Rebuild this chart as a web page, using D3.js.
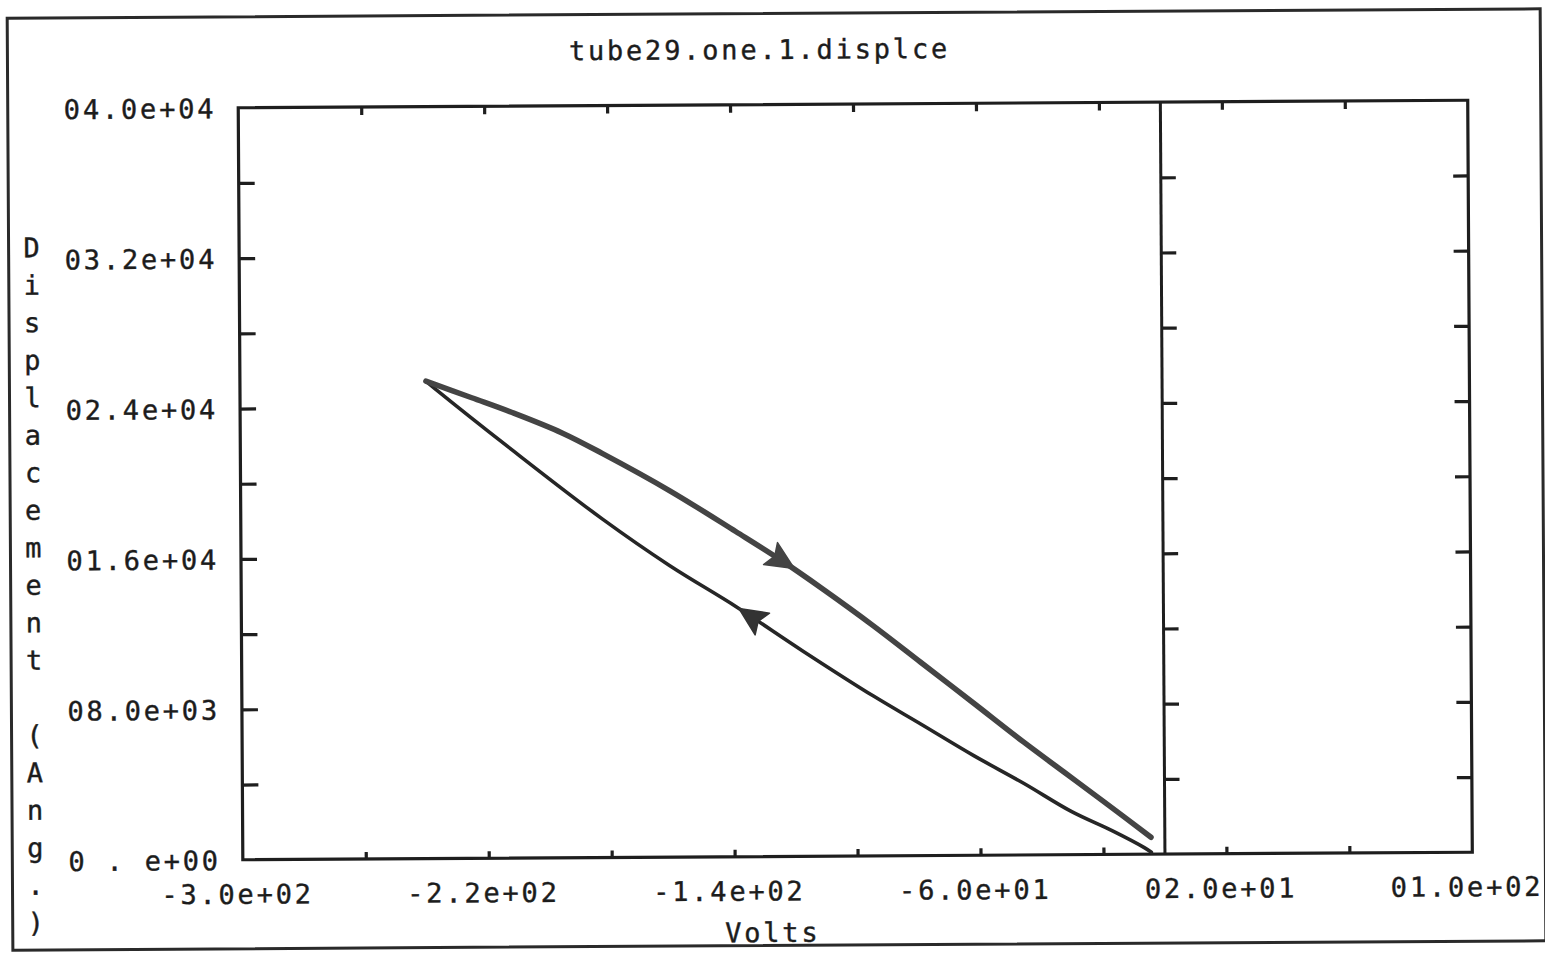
<!DOCTYPE html>
<html>
<head>
<meta charset="utf-8">
<script src="https://cdn.jsdelivr.net/npm/d3@7"></script>
<style>
html, body { margin: 0; padding: 0; background: #fff; }
svg { display: block; }
text { font-family: "DejaVu Sans Mono", monospace; font-size: 27px; fill: #1c1c1c; stroke: #1c1c1c; stroke-width: 0.4px; white-space: pre; letter-spacing: 2.8px; }
</style>
</head>
<body>
<svg id="chart" width="1545" height="953"></svg>
<script>
// labels
var title = "tube29.one.1.displce";
var xTitle = "Volts";
var yTitle = "Displacement (Ang.)";

// axes
var xDomain = [-300, 100];
var yDomain = [0, 40000];
var xLabelValues = [-300, -220, -140, -60, 20, 100];
var xTickLabels = ["-3.0e+02", "-2.2e+02", "-1.4e+02", "-6.0e+01", "02.0e+01", "01.0e+02"];
var xMinorTicks = [-260, -220, -180, -140, -100, -60, -20, 20, 60];
var yLabelValues = [0, 8000, 16000, 24000, 32000, 40000];
var yTickLabels = ["0 . e+00", "08.0e+03", "01.6e+04", "02.4e+04", "03.2e+04", "04.0e+04"];
var yMinorTicks = [4000, 8000, 12000, 16000, 20000, 24000, 28000, 32000, 36000];

// sweep up (tip -> 0 V), travel order
var upVolts = [-239.5, -224.6, -211.5, -195.3, -182.3, -160.5, -139.0, -124.7, -110.7, -94.5, -79.2, -62.0, -45.7, -32.7, -19.7, -4.5];
var upDisp  = [25400, 24500, 23700, 22600, 21500, 19500, 17300, 15800, 14200, 12250, 10300, 8100, 6000, 4400, 2800, 900];

// sweep back (0 V -> tip), travel order
var downVolts = [-4.4, -6.7, -17.0, -30.4, -45.7, -62.0, -79.2, -94.5, -117.2, -139.0, -160.5, -182.3, -211.5, -236.6, -239.5];
var downDisp  = [100, 350, 1250, 2300, 3800, 5300, 7000, 8500, 10900, 13300, 15500, 18000, 21700, 25000, 25400];

// where the direction arrows sit
var arrowVolts = [-124.7, -133.5];

var svg = d3.select("#chart");
var W = 1545, H = 953;
// the scan is slightly skewed
var root = svg.append("g").attr("transform", "rotate(-0.35," + (W / 2) + "," + 476 + ")");

var pLeft = 240.5, pRight = 1470, pTop = 104.5, pBottom = 856.5;
var x = d3.scaleLinear().domain(xDomain).range([pLeft, pRight]);
var y = d3.scaleLinear().domain(yDomain).range([pBottom, pTop]);

// outer frame
root.append("rect")
  .attr("x", 10).attr("y", 13.5).attr("width", 1533).attr("height", 932)
  .attr("fill", "none").attr("stroke", "#2a2a2a").attr("stroke-width", 3);

// plot box
root.append("rect")
  .attr("x", pLeft).attr("y", pTop).attr("width", pRight - pLeft).attr("height", pBottom - pTop)
  .attr("fill", "none").attr("stroke", "#1e1e1e").attr("stroke-width", 3.2);

// zero volt line
root.append("line")
  .attr("x1", x(0)).attr("x2", x(0)).attr("y1", pTop).attr("y2", pBottom)
  .attr("stroke", "#1e1e1e").attr("stroke-width", 3);

function styleTicks(g) {
  g.select(".domain").remove();
  g.selectAll(".tick line").attr("stroke", "#1e1e1e").attr("stroke-width", 3.2);
}

// minor ticks
root.append("g").attr("transform", "translate(0," + pBottom + ")")
  .call(d3.axisBottom(x).tickValues(xMinorTicks).tickSize(-7).tickFormat(""))
  .call(styleTicks);
root.append("g").attr("transform", "translate(0," + pTop + ")")
  .call(d3.axisTop(x).tickValues(xMinorTicks).tickSize(-8).tickFormat(""))
  .call(styleTicks);
root.append("g").attr("transform", "translate(" + pLeft + ",0)")
  .call(d3.axisLeft(y).tickValues(yMinorTicks).tickSize(-16).tickFormat(""))
  .call(styleTicks);
root.append("g").attr("transform", "translate(" + pRight + ",0)")
  .call(d3.axisRight(y).tickValues(yMinorTicks).tickSize(-15).tickFormat(""))
  .call(styleTicks);
root.append("g").attr("transform", "translate(" + x(0) + ",0)")
  .call(d3.axisRight(y).tickValues(yMinorTicks).tickSize(15).tickFormat(""))
  .call(styleTicks);

// tick labels
var xl = root.append("g").attr("transform", "translate(0," + pBottom + ")")
  .call(d3.axisBottom(x).tickValues(xLabelValues).tickSize(0)
    .tickFormat(function(d, i) { return xTickLabels[i]; }));
xl.select(".domain").remove();
xl.selectAll("text").attr("y", 44).attr("dy", 0).attr("dx", -6).attr("fill", "#1c1c1c");

var yl = root.append("g").attr("transform", "translate(" + pLeft + ",0)")
  .call(d3.axisLeft(y).tickValues(yLabelValues).tickSize(0).tickPadding(22)
    .tickFormat(function(d, i) { return yTickLabels[i]; }));
yl.select(".domain").remove();
yl.selectAll("text").attr("dy", "0.36em").attr("fill", "#1c1c1c");

// titles
root.append("text").attr("x", 762).attr("y", 59).attr("text-anchor", "middle").text(title);
root.append("text").attr("x", 770).attr("y", 942).attr("text-anchor", "middle").text(xTitle);
root.append("g").selectAll("text")
  .data(yTitle.split(""))
  .join("text")
  .attr("x", 33)
  .attr("y", function(d, i) { return 243 + i * 37.5; })
  .attr("dy", "0.36em")
  .attr("text-anchor", "middle")
  .style("letter-spacing", "0px")
  .text(function(d) { return d; });

// loop
var line = d3.line().curve(d3.curveCatmullRom.alpha(0.5))
  .x(function(d) { return x(d[0]); }).y(function(d) { return y(d[1]); });
var upPts = upVolts.map(function(v, i) { return [v, upDisp[i]]; });
var downPts = downVolts.map(function(v, i) { return [v, downDisp[i]]; });

root.append("path").datum(downPts).attr("d", line)
  .attr("fill", "none").attr("stroke", "#262626").attr("stroke-width", 3.6)
  .attr("stroke-linejoin", "round").attr("stroke-linecap", "round");
root.append("path").datum(upPts).attr("d", line)
  .attr("fill", "none").attr("stroke", "#444").attr("stroke-width", 5.5)
  .attr("stroke-linejoin", "round").attr("stroke-linecap", "round");

function arrowOn(pts, v, color) {
  for (var i = 0; i < pts.length - 1; i++) {
    var a = pts[i], b = pts[i + 1];
    if ((v - a[0]) * (v - b[0]) <= 0) {
      var t = (v - a[0]) / (b[0] - a[0]);
      var px = x(a[0] + t * (b[0] - a[0])), py = y(a[1] + t * (b[1] - a[1]));
      var ang = Math.atan2(y(b[1]) - y(a[1]), x(b[0]) - x(a[0])) * 180 / Math.PI;
      root.append("path")
        .attr("d", "M17,0 L-11,-13 L-6,0 L-11,13 Z")
        .attr("transform", "translate(" + px + "," + py + ") rotate(" + ang + ")")
        .attr("fill", color).attr("stroke", color).attr("stroke-width", 1.5)
        .attr("stroke-linejoin", "round");
      return;
    }
  }
}
arrowOn(upPts, arrowVolts[0], "#444");
arrowOn(downPts, arrowVolts[1], "#333");
</script>
</body>
</html>
